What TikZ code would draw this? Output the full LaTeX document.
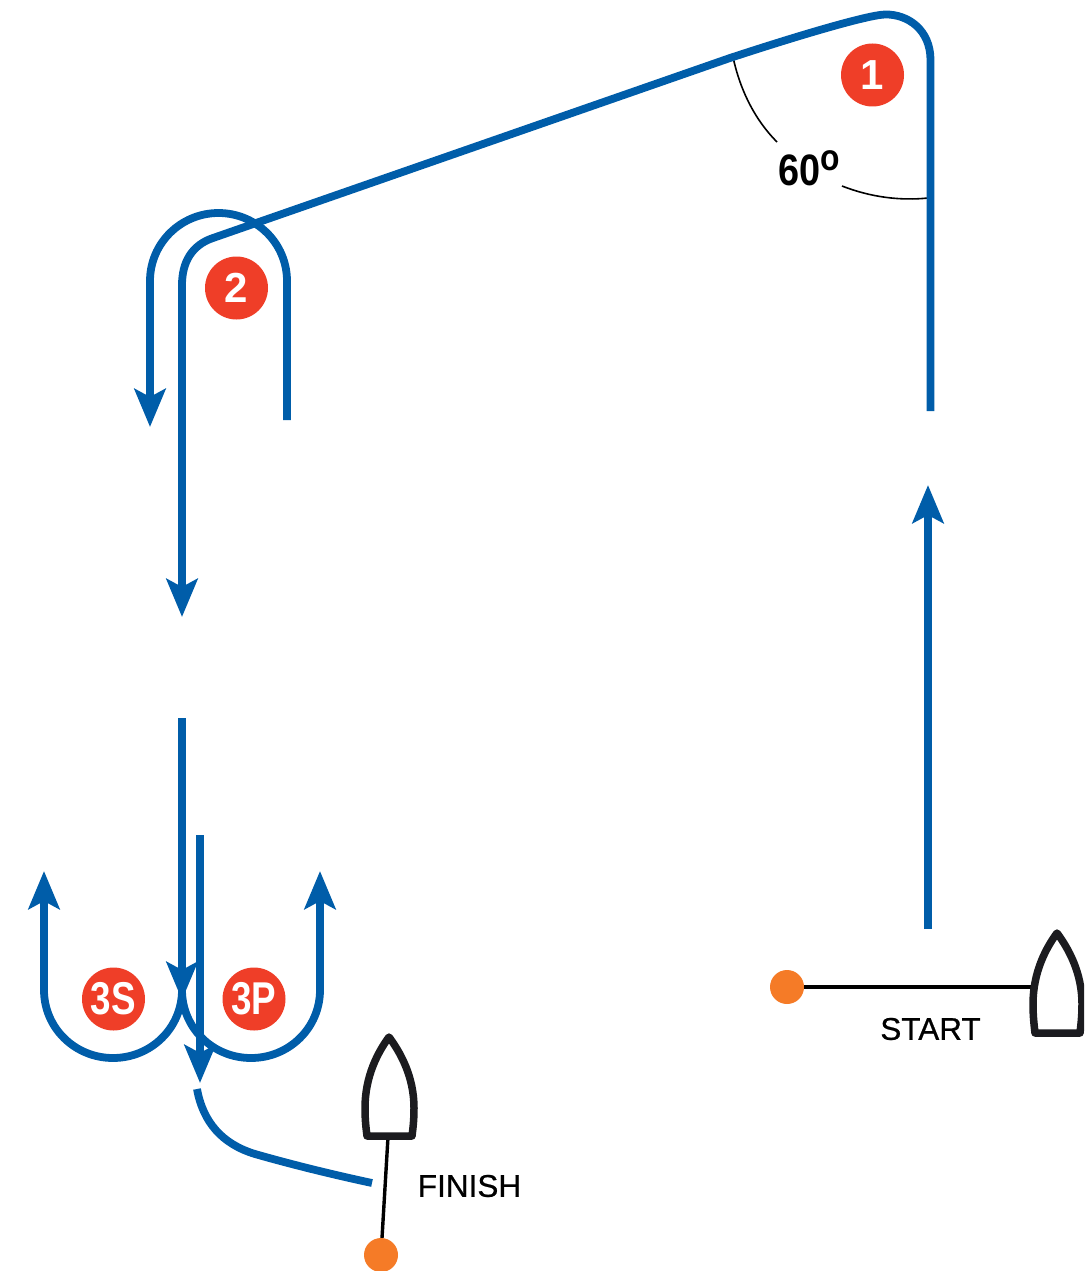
\documentclass[tikz,border=0pt]{standalone}
\usepackage{fontspec}
\usepackage{graphicx}
\setmainfont{Liberation Sans}
\newfontfamily\capfont[FakeBold=0.6]{Liberation Sans}
\usetikzlibrary{arrows.meta}
\definecolor{courseblue}{HTML}{005DA9}
\definecolor{markred}{HTML}{EF3E28}
\definecolor{buoyorange}{HTML}{F57B27}
\definecolor{boatblack}{HTML}{1B1B1F}
\tikzset{
  leg/.style={draw=courseblue,line width=7.8pt},
  legarrow/.style={leg,-{Stealth[length=38pt,width=31pt,inset=8pt]}},
  markdot/.style={circle,fill=markred,text=white,minimum size=63pt,inner sep=0pt,font=\bfseries\fontsize{42pt}{42pt}\selectfont},
  buoy/.style={circle,fill=buoyorange,minimum size=34pt,inner sep=0pt},
  boat/.style={draw=boatblack,line width=7.5pt,line join=round,fill=white},
  lineline/.style={draw=black,line width=3.4pt},
  anglearc/.style={draw=black,line width=1.6pt},
  caption/.style={font=\capfont\fontsize{31.5pt}{31.5pt}\selectfont,text=black,inner sep=0pt}
}
\begin{document}
\begin{tikzpicture}[x=1pt,y=-1pt]
\useasboundingbox (0,0) rectangle (1084,1271);
\clip (0,0) rectangle (1084,1271);
% named ends
\coordinate (legAstart) at (930.5,411);
\coordinate (corner1in) at (930.5,60);
\coordinate (corner1out) at (730,58);
\coordinate (corner2in) at (213,238);
\coordinate (legBtip) at (182,617);
\coordinate (loopStart) at (287,420);
\coordinate (loopTip) at (150,427);
\coordinate (legCstart) at (182,718);
\coordinate (legCtip) at (182,1000);
\coordinate (legDstart) at (200,835);
\coordinate (legDtip) at (200,1083);
\coordinate (startLegA) at (928,929);
\coordinate (startLegB) at (928,485);
\coordinate (gate3) at (182,990);
\coordinate (tip3S) at (44,871);
\coordinate (tip3P) at (320,871);
\coordinate (finEnd) at (372,1183);
\coordinate (finStart) at (197,1089);
\coordinate (boatFstern) at (388,1137);
\coordinate (boatSside) at (1034,987);
\coordinate (arcAstart) at (733,57);
\coordinate (arcAend) at (777,142);
\coordinate (arcBstart) at (842,186);
\coordinate (arcBend) at (928,198);

% angle arcs
\draw[anglearc] (arcAstart) .. controls (740,90) and (755,120) .. (arcAend);
\draw[anglearc] (arcBstart) .. controls (870,197) and (900,201) .. (arcBend);

% course legs
\draw[legarrow] (legAstart) -- (corner1in) .. controls (930.5,30) and (908,14) .. (885,14.5)
  .. controls (868,15) and (800,35) .. (corner1out) -- (corner2in)
  .. controls (192,245) and (182,262) .. (182,285) -- (legBtip);
\draw[legarrow] (loopStart) -- (287,281) .. controls (287,243) and (256,213) .. (218.5,213)
  .. controls (181,213) and (150,243) .. (150,281) -- (loopTip);
\draw[legarrow] (legCstart) -- (legCtip);
% 3S and 3P rounds
\draw[legarrow] (gate3) .. controls (182,1028) and (151,1058) .. (113,1058)
  .. controls (75,1058) and (44,1028) .. (44,990) -- (tip3S);
\draw[legarrow] (gate3) .. controls (182,1028) and (213,1058) .. (251,1058)
  .. controls (289,1058) and (320,1028) .. (320,990) -- (tip3P);
\draw[legarrow] (legDstart) -- (legDtip);
\draw[leg] (finStart) .. controls (203,1122) and (222,1144) .. (255,1154) .. controls (290,1164) and (330,1174) .. (finEnd);
\draw[legarrow] (startLegA) -- (startLegB);

% start and finish lines
\node[buoy] (buoyS) at (787,987) {};
\node[buoy] (buoyF) at (381,1255) {};
\draw[lineline] (buoyS) -- (boatSside);
\draw[lineline] (buoyF) -- (boatFstern);

% boats
\draw[boat] (389,1037) .. controls (378,1052) and (365,1076) .. (365,1108)
  .. controls (365,1120) and (366,1128) .. (367,1136) -- (412,1136)
  .. controls (413,1128) and (414,1120) .. (414,1108)
  .. controls (414,1076) and (400,1052) .. cycle;
\draw[boat] (1057,933) .. controls (1046,948) and (1033,972) .. (1033,1004)
  .. controls (1033,1016) and (1034,1024) .. (1035,1033) -- (1080,1033)
  .. controls (1081,1024) and (1082,1016) .. (1082,1004)
  .. controls (1082,972) and (1068,948) .. cycle;

% round marks
\node[markdot] (m1) at (872.5,75) {\raisebox{-1.5pt}{1}};
\node[markdot] (m2) at (236.5,288) {2};
\node[markdot] (m3S) at (113.5,999) {\scalebox{0.8}[1]{\fontsize{46pt}{46pt}\selectfont 3S}};
\node[markdot] (m3P) at (254,999) {\scalebox{0.8}[1]{\fontsize{46pt}{46pt}\selectfont 3P}};

% texts
\node[caption] (startlabel) at (930.5,1029) {START};
\node[caption] (finishlabel) at (469.5,1186) {FINISH};
\node[inner sep=0pt,font=\bfseries\fontsize{44pt}{44pt}\selectfont,text=black] (angle) at (809,168.5)
  {\scalebox{0.86}[1]{60\raisebox{15pt}{\fontsize{37pt}{37pt}\selectfont o}}};
\end{tikzpicture}
\end{document}
